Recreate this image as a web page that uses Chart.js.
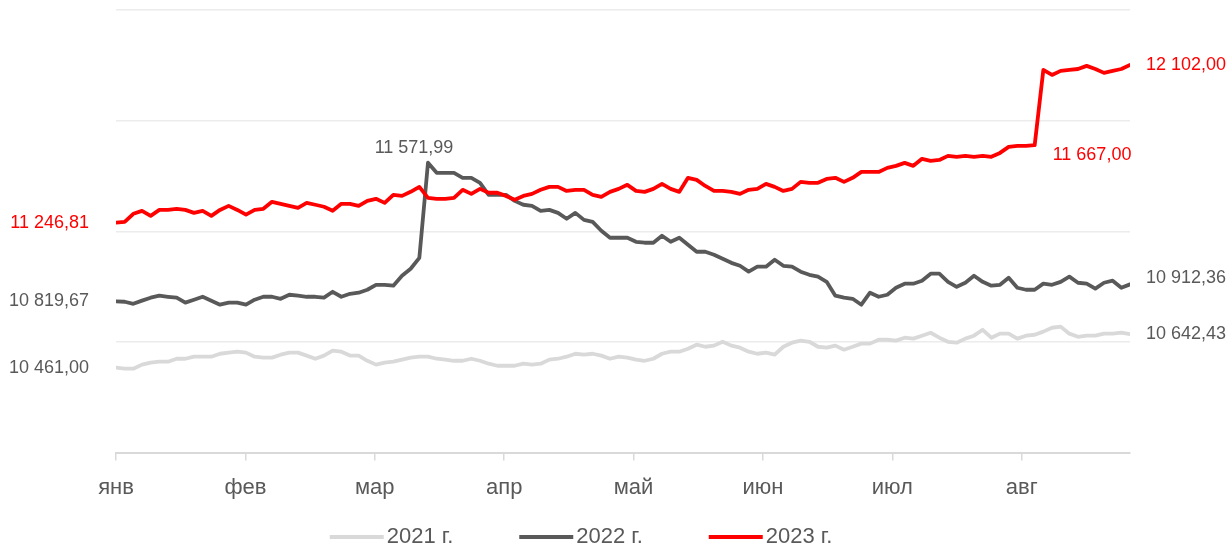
<!DOCTYPE html>
<html lang="ru">
<head>
<meta charset="utf-8">
<title>2021–2023</title>
<script src="https://cdn.jsdelivr.net/npm/chart.js@4.4.1/dist/chart.umd.min.js"></script>
<style>
  html, body { margin: 0; padding: 0; background: #fff; }
  #wrap { width: 1230px; height: 546px; position: relative; }
</style>
</head>
<body>
<div id="wrap"><canvas id="chart"></canvas></div>
<script>
// month labels on the x axis, one tick every MONTH_LEN points
const MONTH_LABELS = ['янв', 'фев', 'мар', 'апр', 'май', 'июн', 'июл', 'авг'];
const MONTH_LEN = 14.93;

const SERIES_NAMES = ['2021 г.', '2022 г.', '2023 г.'];

const Y2021 = [
    10461, 10455, 10455, 10477, 10488, 10493, 10493, 10509, 10509, 10520,
    10520, 10520, 10536, 10542, 10547, 10542, 10520, 10515, 10515, 10531,
    10542, 10542, 10526, 10509, 10526, 10553, 10547, 10526, 10526, 10498,
    10477, 10488, 10493, 10504, 10515, 10520, 10520, 10509, 10504, 10498,
    10498, 10509, 10498, 10482, 10471, 10471, 10471, 10482, 10477, 10482,
    10504, 10509, 10520, 10536, 10531, 10536, 10526, 10509, 10520, 10515,
    10504, 10498, 10509, 10536, 10547, 10547, 10563, 10585, 10574, 10580,
    10601, 10580, 10569, 10547, 10536, 10542, 10531, 10574, 10596, 10607,
    10601, 10574, 10569, 10580, 10558, 10574, 10591, 10591, 10612, 10612,
    10607, 10623, 10618, 10634, 10650, 10623, 10601, 10596, 10618, 10634,
    10666, 10623, 10645, 10645, 10618, 10634, 10639, 10656, 10677, 10683,
    10645, 10628, 10634, 10634, 10645, 10645, 10650, 10642.43
];

const Y2022 = [
    10819.67, 10818, 10807, 10824, 10840, 10851, 10845, 10840, 10813, 10829,
    10845, 10824, 10802, 10813, 10813, 10802, 10829, 10845, 10845, 10834,
    10856, 10851, 10845, 10845, 10840, 10872, 10845, 10861, 10867, 10883,
    10910, 10910, 10905, 10959, 10997, 11056, 11571.99, 11517, 11517, 11517,
    11490, 11490, 11463, 11398, 11398, 11398, 11365, 11344, 11338, 11311,
    11316, 11300, 11268, 11300, 11262, 11251, 11203, 11165, 11165, 11165,
    11143, 11138, 11138, 11176, 11143, 11165, 11127, 11089, 11089, 11073,
    11051, 11029, 11013, 10981, 11008, 11008, 11046, 11013, 11008, 10981,
    10964, 10954, 10926, 10851, 10840, 10834, 10802, 10867, 10845, 10856,
    10894, 10916, 10916, 10932, 10970, 10970, 10926, 10899, 10921, 10959,
    10926, 10905, 10910, 10948, 10894, 10883, 10883, 10916, 10910, 10926,
    10954, 10921, 10916, 10889, 10921, 10932, 10894, 10912.36
];

const Y2023 = [
    11246.81, 11251, 11295, 11311, 11284, 11316, 11316, 11322, 11316, 11300,
    11311, 11284, 11316, 11338, 11316, 11290, 11316, 11322, 11360, 11349,
    11338, 11327, 11354, 11344, 11333, 11311, 11349, 11349, 11338, 11365,
    11376, 11354, 11398, 11392, 11414, 11441, 11381, 11376, 11376, 11381,
    11425, 11403, 11430, 11409, 11409, 11392, 11371, 11392, 11403, 11425,
    11441, 11441, 11419, 11425, 11425, 11398, 11387, 11414, 11430, 11452,
    11419, 11414, 11430, 11457, 11430, 11414, 11490, 11479, 11446, 11419,
    11419, 11414, 11403, 11425, 11430, 11457, 11441, 11419, 11430, 11468,
    11463, 11463, 11484, 11490, 11468, 11490, 11522, 11522, 11522, 11544,
    11555, 11571, 11555, 11593, 11582, 11587, 11609, 11604, 11609, 11604,
    11609, 11604, 11625, 11658, 11663, 11663, 11667, 12075, 12048, 12070,
    12075, 12080, 12097, 12080, 12059, 12070, 12080, 12102
];

// extra labelled points: [dataset, point index, placement]
const MARKS = [[1, 36, 'above'], [2, 106, 'below']];

const FONT = '"Liberation Sans", Arial, sans-serif';
const TEXT_GREY = '#595959';

function fmt(v) {
    const [i, d] = v.toFixed(2).split('.');
    return i.replace(/\B(?=(\d{3})+(?!\d))/g, ' ') + ',' + d;
}

const valueLabels = {
    id: 'valueLabels',
    afterDatasetsDraw(chart) {
        const ctx = chart.ctx;
        ctx.save();
        ctx.font = '18px ' + FONT;
        ctx.textBaseline = 'middle';
        chart.data.datasets.forEach((ds, di) => {
            const pts = chart.getDatasetMeta(di).data;
            const n = pts.length - 1;
            ctx.fillStyle = ds.textColor;
            ctx.textAlign = 'right';
            ctx.fillText(fmt(ds.data[0]), pts[0].x - 27, pts[0].y);
            ctx.textAlign = 'left';
            ctx.fillText(fmt(ds.data[n]), pts[n].x + 16, pts[n].y + ds.endShift);
        });
        MARKS.forEach(([di, idx, place]) => {
            const ds = chart.data.datasets[di];
            const p = chart.getDatasetMeta(di).data[idx];
            ctx.fillStyle = ds.textColor;
            if (place === 'above') {
                ctx.textAlign = 'center';
                ctx.fillText(fmt(ds.data[idx]), p.x - 14, p.y - 15);
            } else {
                ctx.textAlign = 'left';
                ctx.fillText(fmt(ds.data[idx]), p.x + 18, p.y + 10);
            }
        });
        ctx.restore();
    }
};

// legend drawn under the axis: short thick line + series name
const lineLegend = {
    id: 'lineLegend',
    afterDraw(chart) {
        const ctx = chart.ctx;
        ctx.save();
        ctx.font = '22px ' + FONT;
        ctx.textBaseline = 'middle';
        const sets = chart.data.datasets;
        const widths = sets.map(ds => 54 + 3 + ctx.measureText(ds.label).width);
        const total = widths.reduce((a, b) => a + b, 0) + 66 * (sets.length - 1);
        let x = 581 - total / 2;
        const y = 537;
        sets.forEach((ds, i) => {
            ctx.strokeStyle = ds.borderColor;
            ctx.lineWidth = 4;
            ctx.beginPath();
            ctx.moveTo(x, y);
            ctx.lineTo(x + 54, y);
            ctx.stroke();
            ctx.fillStyle = TEXT_GREY;
            ctx.textAlign = 'left';
            ctx.fillText(ds.label, x + 57, y);
            x += widths[i] + 66;
        });
        ctx.restore();
    }
};

const mkSet = (label, data, color, textColor, order, endShift) => ({
    label, data, order, textColor, endShift,
    borderColor: color,
    borderWidth: 3.8,
    pointRadius: 0,
    pointHoverRadius: 0,
    tension: 0,
    borderJoinStyle: 'round',
    borderCapStyle: 'round',
    fill: false
});

new Chart(document.getElementById('chart'), {
    type: 'line',
    data: {
        labels: Y2021.map((_, i) => i),
        datasets: [
            mkSet(SERIES_NAMES[0], Y2021, '#d9d9d9', TEXT_GREY, 3, 0),
            mkSet(SERIES_NAMES[1], Y2022, '#595959', TEXT_GREY, 2, -6),
            mkSet(SERIES_NAMES[2], Y2023, '#ff0000', '#ff0000', 1, 0)
        ]
    },
    options: {
        responsive: true,
        maintainAspectRatio: false,
        animation: false,
        devicePixelRatio: 1,
        layout: { padding: { left: 116, right: 100, top: 10, bottom: 31 } },
        plugins: { legend: { display: false }, tooltip: { enabled: false } },
        scales: {
            x: {
                type: 'linear',
                min: 0,
                max: Y2021.length - 1,
                afterBuildTicks: s => { s.ticks = MONTH_LABELS.map((_, k) => ({ value: k * MONTH_LEN })); },
                ticks: {
                    autoSkip: false,
                    maxRotation: 0,
                    padding: 14,
                    color: TEXT_GREY,
                    font: { family: FONT, size: 22 },
                    callback: (v, i) => MONTH_LABELS[i]
                },
                grid: { drawOnChartArea: false, drawTicks: true, tickLength: 8, color: '#d9d9d9', lineWidth: 1.5 },
                border: { color: '#d9d9d9', width: 2 }
            },
            y: {
                min: 10000,
                max: 12400,
                ticks: { display: false, stepSize: 600 },
                grid: { color: '#ececec', lineWidth: 1.5, drawTicks: false },
                border: { display: false }
            }
        }
    },
    plugins: [valueLabels, lineLegend]
});
</script>
</body>
</html>
